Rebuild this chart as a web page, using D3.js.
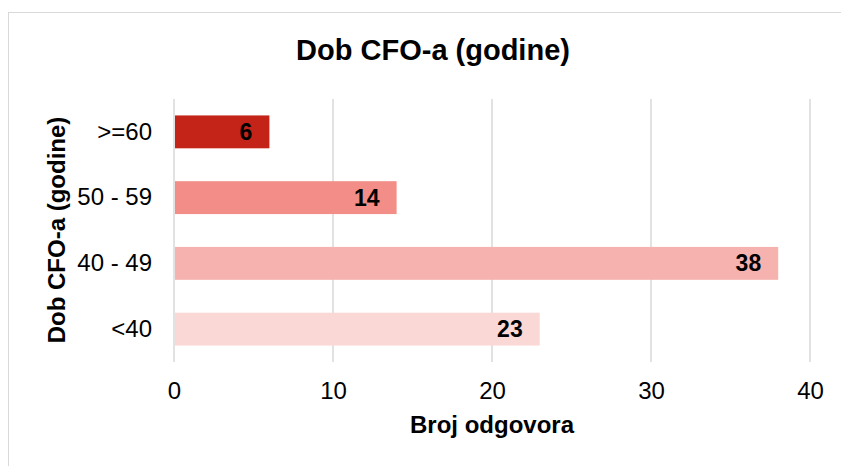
<!DOCTYPE html>
<html>
<head>
<meta charset="utf-8">
<script src="https://cdn.jsdelivr.net/npm/d3@7"></script>
<style>
  body { margin: 0; background: #fff; }
  svg { display: block; font-family: "Liberation Sans", Arial, sans-serif; }
</style>
</head>
<body>
<svg id="chart" width="841" height="466"></svg>
<script>
const categories = [">=60", "50 - 59", "40 - 49", "<40"];
const values = [6, 14, 38, 23];
const barColors = ["#C42318", "#F28D87", "#F6B2AF", "#FAD8D6"];
const xTicks = [0, 10, 20, 30, 40];
const chartTitle = "Dob CFO-a (godine)";
const xTitle = "Broj odgovora";
const yTitle = "Dob CFO-a (godine)";

(function () {
const svg = d3.select("#chart");
const W = 841, H = 466;
const FONT = "Liberation Sans, Arial, sans-serif";

svg.append("rect").attr("x", 8.5).attr("y", 12.5).attr("width", W + 10).attr("height", H + 10)
  .attr("fill", "#fff").attr("stroke", "#D9D9D9").attr("stroke-width", 1);

const pLeft = 174, pRight = 810, pTop = 99, pBottom = 362;
const x = d3.scaleLinear().domain([0, 40]).range([pLeft, pRight]);
const y = d3.scaleBand().domain(categories).range([pTop, pBottom]).paddingInner(0.5).paddingOuter(0.25);

// gridlines
svg.append("g").selectAll("line").data(xTicks).join("line")
  .attr("x1", d => x(d)).attr("x2", d => x(d))
  .attr("y1", pTop).attr("y2", pBottom)
  .attr("stroke", "#D9D9D9").attr("stroke-width", 1.5);

// bars
svg.append("g").selectAll("rect").data(values).join("rect")
  .attr("x", x(0) + 1)
  .attr("y", (d, i) => y(categories[i]))
  .attr("width", d => x(d) - x(0) - 1)
  .attr("height", y.bandwidth())
  .attr("fill", (d, i) => barColors[i]);

// value labels
svg.append("g").selectAll("text").data(values).join("text")
  .attr("x", d => x(d) - 17)
  .attr("y", (d, i) => y(categories[i]) + y.bandwidth() / 2)
  .attr("dy", "0.35em")
  .attr("text-anchor", "end")
  .attr("font-size", 23).attr("font-weight", "bold").attr("fill", "#000")
  .text(d => d);

// x axis tick labels
const xAxis = d3.axisBottom(x).tickValues(xTicks).tickSize(0).tickPadding(0);
const gx = svg.append("g").attr("transform", `translate(0,${pBottom + 20})`).call(xAxis);
gx.select(".domain").remove();
gx.selectAll("text").attr("font-size", 24).attr("fill", "#000").attr("font-family", FONT);

// y axis category labels
const yAxis = d3.axisLeft(y).tickSize(0).tickPadding(0);
const gy = svg.append("g").attr("transform", `translate(${pLeft - 22},0)`).call(yAxis);
gy.select(".domain").remove();
gy.selectAll("text").attr("font-size", 24).attr("fill", "#000").attr("font-family", FONT);

// titles
svg.append("text").attr("x", 433).attr("y", 60).attr("text-anchor", "middle")
  .attr("font-size", 29).attr("font-weight", "bold").text(chartTitle);
svg.append("text").attr("x", 492).attr("y", 433).attr("text-anchor", "middle")
  .attr("font-size", 24).attr("font-weight", "bold").text(xTitle);
svg.append("text").attr("transform", `translate(65,230) rotate(-90)`)
  .attr("text-anchor", "middle")
  .attr("font-size", 24).attr("font-weight", "bold").text(yTitle);
})();
</script>
</body>
</html>
